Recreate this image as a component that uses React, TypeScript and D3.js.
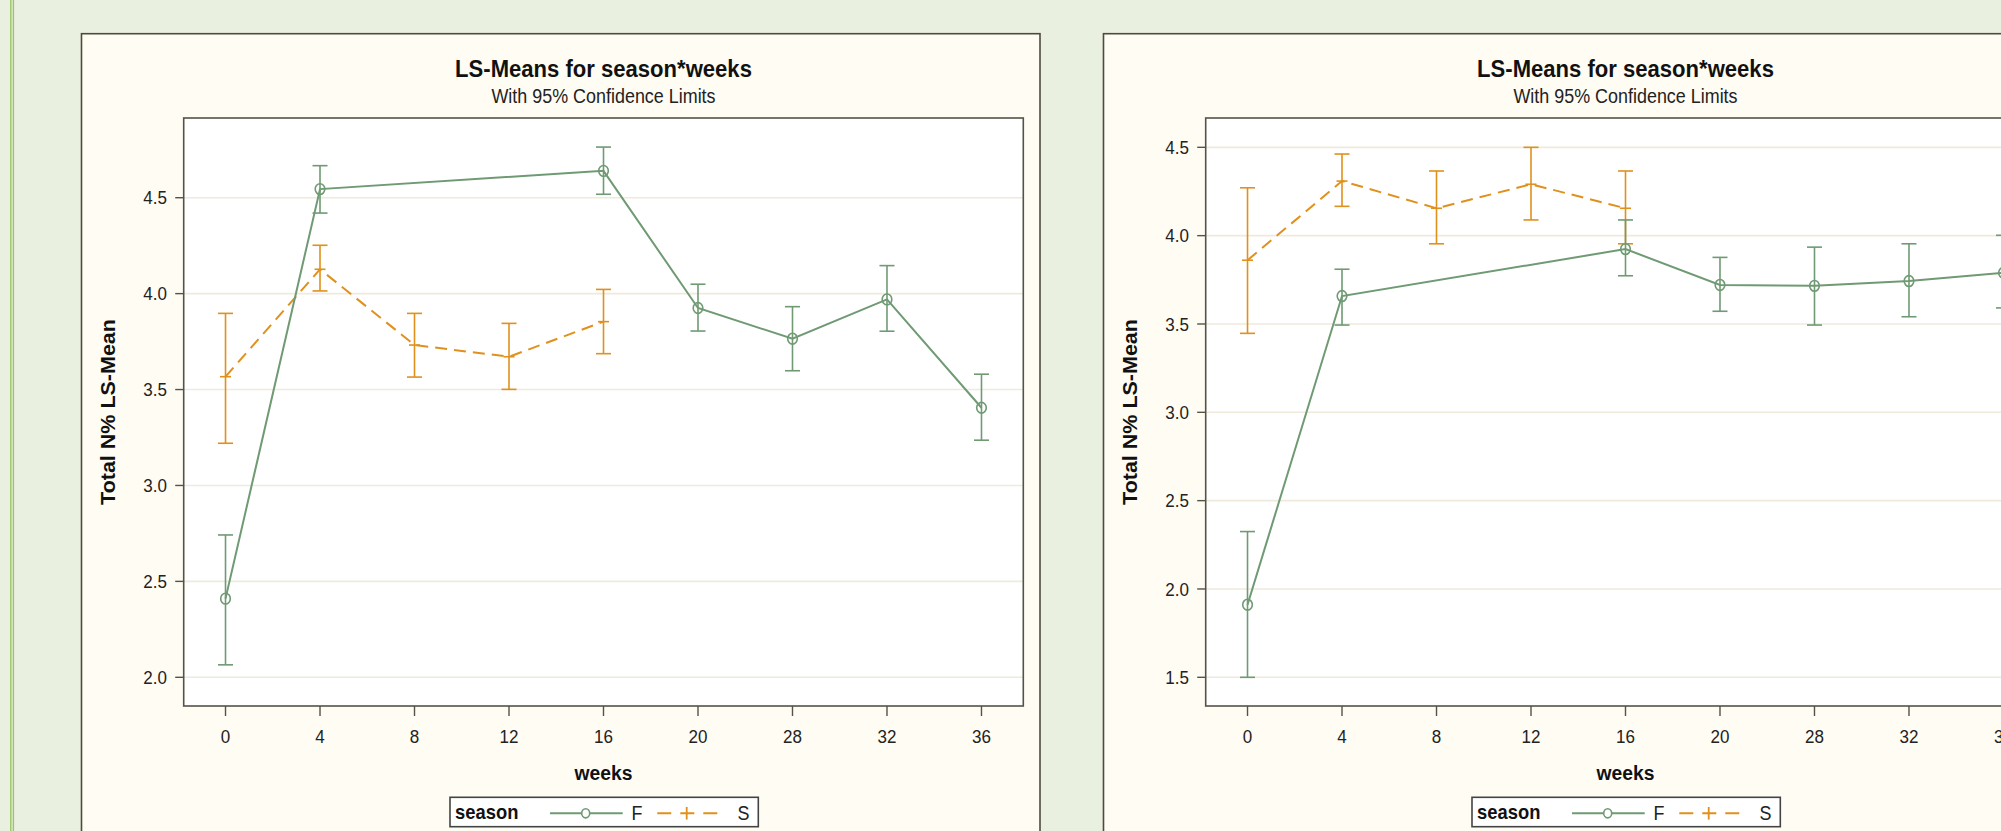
import React from "react";
import * as d3 from "d3";

const weekCats = ["0", "4", "8", "12", "16", "20", "28", "32", "36"];

// Left panel
const f1Weeks = ["0", "4", "16", "20", "28", "32", "36"];
const f1Mean = [2.41, 4.545, 4.64, 3.925, 3.765, 3.97, 3.405];
const f1Lower = [2.065, 4.42, 4.518, 3.805, 3.598, 3.804, 3.236];
const f1Upper = [2.742, 4.667, 4.764, 4.049, 3.932, 4.146, 3.58];
const s1Weeks = ["0", "4", "8", "12", "16"];
const s1Mean = [3.567, 4.127, 3.732, 3.671, 3.854];
const s1Lower = [3.22, 4.014, 3.565, 3.501, 3.687];
const s1Upper = [3.897, 4.252, 3.897, 3.845, 4.022];
const y1Ticks = [2.0, 2.5, 3.0, 3.5, 4.0, 4.5];
const y1Domain = [1.8504, 4.9155];

// Right panel
const f2Weeks = ["0", "4", "16", "20", "28", "32", "36"];
const f2Mean = [1.911, 3.658, 3.924, 3.721, 3.716, 3.743, 3.79];
const f2Lower = [1.5, 3.494, 3.773, 3.572, 3.494, 3.541, 3.591];
const f2Upper = [2.325, 3.81, 4.089, 3.877, 3.935, 3.954, 4.002];
const s2Weeks = ["0", "4", "8", "12", "16"];
const s2Mean = [3.861, 4.309, 4.155, 4.291, 4.155];
const s2Lower = [3.447, 4.166, 3.954, 4.089, 3.954];
const s2Upper = [4.271, 4.462, 4.366, 4.5, 4.366];
const y2Ticks = [1.5, 2.0, 2.5, 3.0, 3.5, 4.0, 4.5];
const y2Domain = [1.3376, 4.666];

const titleText = "LS-Means for season*weeks";
const subtitleText = "With 95% Confidence Limits";
const xLabel = "weeks";
const yLabel = "Total N% LS-Mean";
const legendTitle = "season";
const seriesNames = ["F", "S"];

const GREEN = "#6f9a73";
const ORANGE = "#e0901c";
const FONT = "'Liberation Sans', Arial, Helvetica, sans-serif";
const SX = 0.92;

type Series = { weeks: string[]; mean: number[]; lower: number[]; upper: number[] };

function T(props: {
  x: number; y: number; size: number; bold?: boolean; anchor?: string; children: any; rotate?: boolean; fill?: string;
}) {
  const { x, y, size, bold, anchor, children, rotate, fill } = props;
  const tr = rotate
    ? `translate(${x},${y}) rotate(-90) scale(1,${SX})`
    : `translate(${x},${y}) scale(${SX},1)`;
  return (
    <text
      transform={tr}
      fontFamily={FONT}
      fontSize={size}
      fontWeight={bold ? "bold" : "normal"}
      textAnchor={anchor || "start"}
      fill={fill || "#111"}
    >
      {children}
    </text>
  );
}

function Panel(props: { dx: number; f: Series; s: Series; yTicks: number[]; yDomain: number[] }) {
  const { dx, f, s, yTicks, yDomain } = props;
  const left = 183.7, right = 1023.3, top = 118, bottom = 706;
  const x = d3.scalePoint<string>().domain(weekCats).range([left, right]).padding(0.4425);
  const y = d3.scaleLinear().domain(yDomain).range([bottom, top]);
  const cx = (left + right) / 2;
  const cap = 7.5;

  const lineGen = d3
    .line<number>()
    .x((_, i) => 0)
    .y((d) => y(d));

  const path = (ser: Series) =>
    d3
      .line<number>()
      .x((_, i) => x(ser.weeks[i]) as number)
      .y((d) => y(d))(ser.mean) as string;

  const errBars = (ser: Series, color: string) =>
    ser.weeks.map((w, i) => {
      const px = x(w) as number;
      const yl = y(ser.lower[i]);
      const yu = y(ser.upper[i]);
      return (
        <g key={w} stroke={color} strokeWidth={1.6}>
          <line x1={px} x2={px} y1={yl} y2={yu} />
          <line x1={px - cap} x2={px + cap} y1={yl} y2={yl} />
          <line x1={px - cap} x2={px + cap} y1={yu} y2={yu} />
        </g>
      );
    });

  void lineGen;

  return (
    <g transform={`translate(${dx},0)`}>
      <rect x={81.5} y={33.7} width={958.5} height={900} fill="#fffcf4" stroke="#4d4b40" strokeWidth={1.6} />
      <T x={cx} y={76.7} size={24} bold anchor="middle">{titleText}</T>
      <T x={cx} y={103.3} size={19.5} anchor="middle" fill="#222">{subtitleText}</T>
      <rect x={left} y={top} width={right - left} height={bottom - top} fill="#ffffff" />
      {yTicks.map((t) => (
        <line key={t} x1={left} x2={right} y1={y(t)} y2={y(t)} stroke="#efeadb" strokeWidth={1.6} />
      ))}
      <rect x={left} y={top} width={right - left} height={bottom - top} fill="none" stroke="#555248" strokeWidth={1.6} />
      {yTicks.map((t) => (
        <g key={"yt" + t}>
          <line x1={left - 8.5} x2={left} y1={y(t)} y2={y(t)} stroke="#555248" strokeWidth={1.4} />
          <T x={167} y={y(t) + 6.6} size={18.5} anchor="end" fill="#222">{d3.format(".1f")(t)}</T>
        </g>
      ))}
      {weekCats.map((w) => (
        <g key={"xt" + w}>
          <line x1={x(w) as number} x2={x(w) as number} y1={bottom} y2={bottom + 10} stroke="#555248" strokeWidth={1.4} />
          <T x={x(w) as number} y={743.3} size={18.5} anchor="middle" fill="#222">{w}</T>
        </g>
      ))}
      <T x={cx} y={780} size={21} bold anchor="middle">{xLabel}</T>
      <T x={114.5} y={(top + bottom) / 2} size={21.5} bold anchor="middle" rotate>{yLabel}</T>

      {/* S series */}
      {errBars(s, ORANGE)}
      <path d={path(s)} fill="none" stroke={ORANGE} strokeWidth={2} strokeDasharray="12,7" />
      {s.weeks.map((w, i) => (
        <line key={"sp" + w} x1={(x(w) as number) - 5.5} x2={(x(w) as number) + 5.5} y1={y(s.mean[i])} y2={y(s.mean[i])} stroke={ORANGE} strokeWidth={1.6} />
      ))}

      {/* F series */}
      {errBars(f, GREEN)}
      <path d={path(f)} fill="none" stroke={GREEN} strokeWidth={2} />
      {f.weeks.map((w, i) => (
        <ellipse key={"fp" + w} cx={x(w) as number} cy={y(f.mean[i])} rx={4.8} ry={5.4} fill="none" stroke={GREEN} strokeWidth={1.6} />
      ))}

      {/* Legend */}
      <rect x={450} y={797.3} width={308.3} height={29.4} fill="#ffffff" stroke="#444" strokeWidth={1.6} />
      <T x={455} y={819} size={20} bold>{legendTitle}</T>
      <line x1={550} x2={622.7} y1={813.3} y2={813.3} stroke={GREEN} strokeWidth={2} />
      <ellipse cx={585.7} cy={813.3} rx={4} ry={4.6} fill="#fff" stroke={GREEN} strokeWidth={1.6} />
      <T x={631.5} y={820} size={19.5} fill="#222">{seriesNames[0]}</T>
      <line x1={657.3} x2={724.3} y1={813.3} y2={813.3} stroke={ORANGE} strokeWidth={2} strokeDasharray="14,9" />
      <line x1={686.7} x2={686.7} y1={807} y2={819.6} stroke={ORANGE} strokeWidth={1.8} />
      <T x={737.5} y={820} size={19.5} fill="#222">{seriesNames[1]}</T>
    </g>
  );
}

export default function App() {
  const f1: Series = { weeks: f1Weeks, mean: f1Mean, lower: f1Lower, upper: f1Upper };
  const s1: Series = { weeks: s1Weeks, mean: s1Mean, lower: s1Lower, upper: s1Upper };
  const f2: Series = { weeks: f2Weeks, mean: f2Mean, lower: f2Lower, upper: f2Upper };
  const s2: Series = { weeks: s2Weeks, mean: s2Mean, lower: s2Lower, upper: s2Upper };
  return (
    <svg
      width={2001}
      height={831}
      style={{ position: "absolute", left: 0, top: 0, display: "block" }}
    >
      <rect x={0} y={0} width={2001} height={831} fill="#eaf0df" />
      <line x1={10.8} x2={10.8} y1={0} y2={831} stroke="#9cc466" strokeWidth={1.4} />
      <line x1={13.4} x2={13.4} y1={0} y2={831} stroke="#9cc466" strokeWidth={1.4} />
      <Panel dx={0} f={f1} s={s1} yTicks={y1Ticks} yDomain={y1Domain} />
      <Panel dx={1022} f={f2} s={s2} yTicks={y2Ticks} yDomain={y2Domain} />
    </svg>
  );
}
